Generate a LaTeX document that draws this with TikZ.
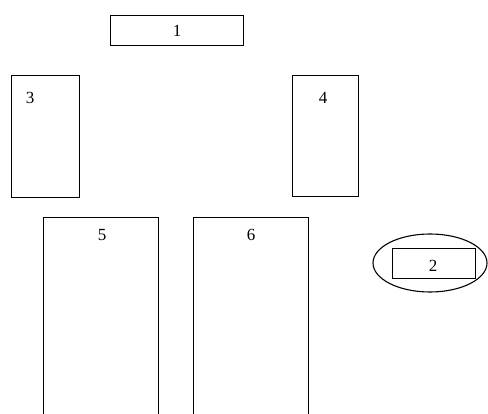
\documentclass[tikz,border=0pt]{standalone}
\usepackage{fontspec}
\setmainfont{Liberation Serif}
\usetikzlibrary{shapes.geometric}
\begin{document}
\begin{tikzpicture}[x=1pt,y=-1pt,
  box/.style={draw=black,line width=1.1pt,rectangle,inner sep=0pt,anchor=north west},
  lbl/.style={font=\fontsize{17}{17}\selectfont,inner sep=0pt},
  ring/.style={draw=black,line width=1.1pt,ellipse,inner sep=0pt}]
\useasboundingbox (0,0) rectangle (488,414);
\clip (0,0) rectangle (488,414);
% box 1
\node[box,minimum width=133pt,minimum height=30pt] (b1) at (110,15) {};
\node[lbl] (t1) at (b1.center) {1};
% box 3
\node[box,minimum width=68pt,minimum height=122pt] (b3) at (11,75) {};
\node[lbl] (t3) at (30,98) {3};
% box 4
\node[box,minimum width=66pt,minimum height=121pt] (b4) at (292,75) {};
\node[lbl] (t4) at (323,98) {4};
% box 5
\node[box,minimum width=115pt,minimum height=200pt] (b5) at (43,217) {};
\node[lbl] (t5) at (102,235) {5};
% box 6
\node[box,minimum width=115pt,minimum height=200pt] (b6) at (193,217) {};
\node[lbl] (t6) at (251,235) {6};
% ellipse with box 2
\node[ring,minimum width=114pt,minimum height=58pt] (e2) at (430,263) {};
\node[box,minimum width=83pt,minimum height=30pt] (b2) at (392,248) {};
\node[lbl] (t2) at (433,266) {2};
\end{tikzpicture}
\end{document}
